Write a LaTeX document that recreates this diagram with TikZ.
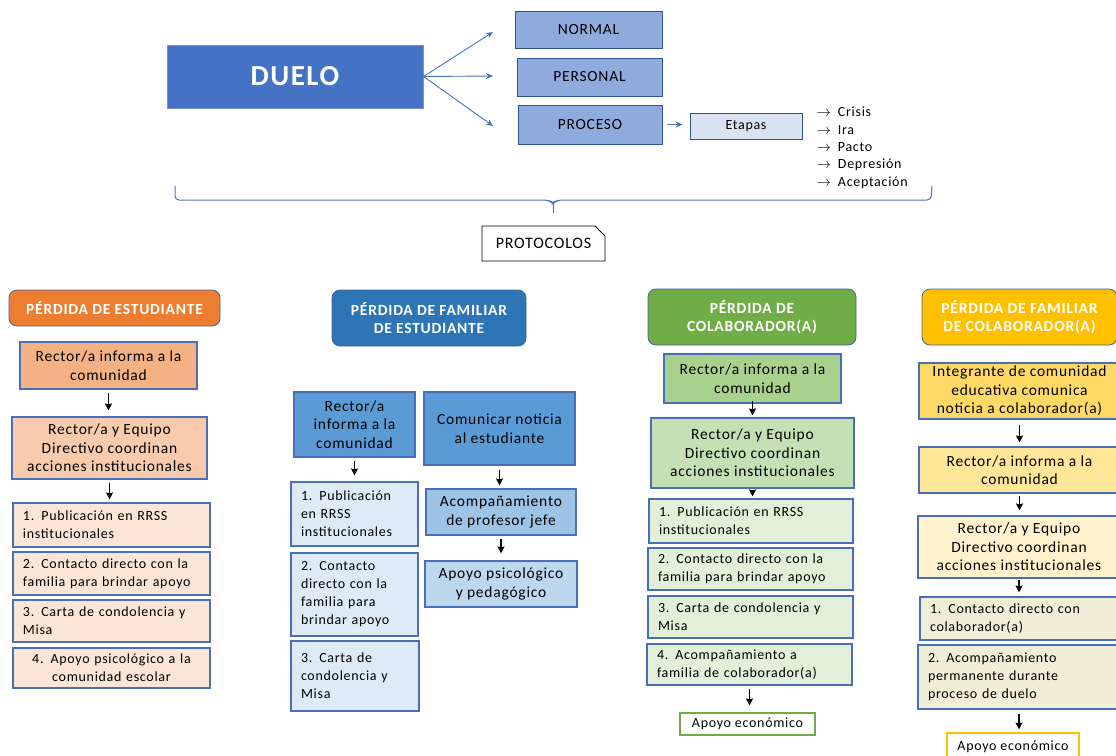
\documentclass[tikz,border=0pt]{standalone}
\usepackage{fontspec}
\setmainfont{Carlito}[LetterSpace=5]
\usetikzlibrary{arrows.meta, positioning, calc, shapes.misc}

\definecolor{duelfill}{HTML}{4472C4}
\definecolor{dueledge}{HTML}{7393D3}
\definecolor{topfill}{HTML}{8FAADC}
\definecolor{topedge}{HTML}{2F5597}
\definecolor{etafill}{HTML}{DAE3F3}
\definecolor{boxedge}{HTML}{4A6FBA}
\definecolor{headedge}{HTML}{41659A}
% columns
\definecolor{orhead}{HTML}{ED7D31}
\definecolor{orA}{HTML}{F4B183}
\definecolor{orB}{HTML}{F8CBAD}
\definecolor{orC}{HTML}{FBE5D6}
\definecolor{blhead}{HTML}{2E75B6}
\definecolor{blA}{HTML}{5B9BD5}
\definecolor{blB}{HTML}{9DC3E6}
\definecolor{blC}{HTML}{BDD7EE}
\definecolor{blD}{HTML}{DEEBF7}
\definecolor{grhead}{HTML}{70AD47}
\definecolor{grA}{HTML}{A9D18E}
\definecolor{grB}{HTML}{C5E0B4}
\definecolor{grC}{HTML}{E2F0D9}
\definecolor{yehead}{HTML}{FFC000}
\definecolor{yeA}{HTML}{FFD966}
\definecolor{yeB}{HTML}{FFE699}
\definecolor{yeC}{HTML}{FFF2CC}
\definecolor{yeD}{HTML}{F0EED6}

\newcommand{\fduel}{\fontsize{29}{32}\selectfont\bfseries}
\newcommand{\ftop}{\fontsize{15.5}{18}\selectfont}
\newcommand{\fhead}{\fontsize{15.5}{18.5}\selectfont\bfseries}
\newcommand{\fbody}{\fontsize{15.5}{18.5}\selectfont}
\newcommand{\fitem}{\fontsize{14}{18}\selectfont}
\newcommand{\fsmall}{\fontsize{14}{16}\selectfont}

\tikzset{
  topbox/.style={draw=topedge, line width=1pt, fill=topfill, font=\ftop},
  head/.style={draw=headedge, line width=0.8pt, rounded corners=8pt, text=white, align=center, font=\fhead},
  box/.style={draw=boxedge, line width=1.1pt, align=center, font=\fbody, inner sep=2pt},
  lbox/.style={draw=boxedge, line width=1.1pt, align=left, font=\fitem, inner xsep=10pt, inner ysep=2pt},
  arr/.style={-{Stealth[length=7pt,width=7pt,inset=1pt]}, line width=1.1pt, black},
  barr/.style={-{Stealth[length=7pt,width=6pt]}, line width=0.9pt, duelfill}
}

\begin{document}
\begin{tikzpicture}[x=1pt, y=-1pt]
\useasboundingbox (0,0) rectangle (1116,755);

% Duelo
\node[draw=dueledge, line width=1pt, fill=duelfill, text=white, font=\fduel,
      minimum width=256pt, minimum height=63pt] (duelo) at (295,76.5) {DUELO};

\node[topbox, minimum width=147pt, minimum height=37pt] (normal) at (588.5,29.5) {NORMAL};
\node[topbox, minimum width=145pt, minimum height=38pt] (personal) at (589.5,77) {PERSONAL};
\node[topbox, minimum width=144pt, minimum height=39pt] (proceso) at (590,124.5) {PROCESO};

\coordinate (tnormal) at (493,32);
\coordinate (tpersonal) at (493,76);
\coordinate (tproceso) at (493,126);
\draw[barr] (duelo.east) -- (tnormal);
\draw[barr] (duelo.east) -- (tpersonal);
\draw[barr] (duelo.east) -- (tproceso);

% Etapas
\node[draw=topedge, line width=1pt, fill=etafill, font=\fsmall,
      minimum width=112pt, minimum height=26pt] (etapas) at (746,126) {Etapas};
\draw[barr, shorten <=4pt, shorten >=7pt] (proceso.east) -- (proceso.east -| etapas.west);

\node[anchor=west, font=\fsmall] (crisis) at (813,112) {$\rightarrow$\hspace{7pt}Crisis};
\node[anchor=west, font=\fsmall] (ira) at (813,129.75) {$\rightarrow$\hspace{7pt}Ira};
\node[anchor=west, font=\fsmall] (pacto) at (813,147.5) {$\rightarrow$\hspace{7pt}Pacto};
\node[anchor=west, font=\fsmall] (depresion) at (813,165.25) {$\rightarrow$\hspace{7pt}Depresión};
\node[anchor=west, font=\fsmall] (aceptacion) at (813,183) {$\rightarrow$\hspace{7pt}Aceptación};

% llave
\draw[duelfill, line width=1pt, rounded corners=4pt]
  (175,186) -- (175,200) -- (549,200) -- (553,204) -- (557,200) -- (931,200) -- (932,186);
\draw[duelfill, line width=1pt] (553,203) -- (553,213);

% Protocolos
\node[chamfered rectangle, chamfered rectangle corners=north east,
      chamfered rectangle xsep=5pt, chamfered rectangle ysep=5pt,
      draw=black, line width=0.9pt, fill=white, font=\fontsize{16}{18}\selectfont,
      minimum width=123pt, minimum height=35pt] (protocolos) at (543.5,243.5) {PROTOCOLOS};

% Perdida de estudiante
\node[head, fill=orhead, minimum width=211pt, minimum height=36pt] (h1) at (114.5,308) {PÉRDIDA DE ESTUDIANTE};
\node[box, fill=orA, minimum width=177pt, minimum height=47pt] (e1) at (108.5,365.5) {Rector/a informa a la\\comunidad};
\node[box, fill=orB, minimum width=195pt, minimum height=62pt] (e2) at (109.5,448) {Rector/a y Equipo\\Directivo coordinan\\acciones institucionales};
\node[lbox, fill=orC, text width=177pt, minimum height=44pt] (e3) at (111.5,525) {1. Publicación en RRSS\\institucionales};
\node[lbox, fill=orC, text width=177pt, minimum height=43pt] (e4) at (111.5,573.5) {2. Contacto directo con la\\familia para brindar apoyo};
\node[lbox, fill=orC, text width=177pt, minimum height=42pt] (e5) at (111.5,621) {3. Carta de condolencia y\\Misa};
\node[lbox, fill=orC, align=center, text width=177pt, minimum height=40pt] (e6) at (111.5,668) {4. Apoyo psicológico a la\\comunidad escolar};
\draw[arr, shorten <=3pt, shorten >=6pt] (e1.south) -- (e1.south |- e2.north);
\draw[arr, shorten <=3pt, shorten >=3pt] (e2.south) -- (e2.south |- e3.north);

% Perdida de familiar de estudiante
\node[head, fill=blhead, minimum width=194pt, minimum height=56pt] (h2) at (429,318) {PÉRDIDA DE FAMILIAR\\DE ESTUDIANTE};
\node[box, fill=blA, minimum width=121pt, minimum height=65pt] (f1) at (354.5,424.5) {Rector/a\\informa a la\\comunidad};
\node[lbox, fill=blD, text width=107pt, minimum height=64pt] (f2) at (354.5,514) {1. Publicación\\en RRSS\\institucionales};
\node[lbox, fill=blD, text width=107pt, minimum height=83pt] (f3) at (354.5,594.5) {2. Contacto\\directo con la\\familia para\\brindar apoyo};
\node[lbox, fill=blD, text width=108pt, minimum height=70pt] (f4) at (355,676) {3. Carta de\\condolencia y\\Misa};
\node[box, fill=blA, minimum width=151pt, minimum height=73pt] (f5) at (499.5,428.5) {Comunicar noticia\\al estudiante};
\node[box, fill=blB, minimum width=150pt, minimum height=46pt] (f6) at (501,512) {Acompañamiento\\de profesor jefe};
\node[box, fill=blC, minimum width=152pt, minimum height=46pt] (f7) at (501,584) {Apoyo psicológico\\y pedagógico};
\draw[arr, shorten <=3pt, shorten >=6pt] (f1.south) -- (f1.south |- f2.north);
\draw[arr, shorten <=4pt, shorten >=3pt] (f5.south) -- (f5.south |- f6.north);
\draw[arr, shorten <=3pt, shorten >=7pt] (f6.south) -- (f6.south |- f7.north);

% Perdida de colaborador(a)
\node[head, fill=grhead, minimum width=208pt, minimum height=56pt] (h3) at (752,317) {PÉRDIDA DE\\COLABORADOR(A)};
\node[box, fill=grA, minimum width=177pt, minimum height=49pt] (g1) at (752.5,378.5) {Rector/a informa a la\\comunidad};
\node[box, fill=grB, minimum width=203pt, minimum height=70pt] (g2) at (752.5,453) {Rector/a y Equipo\\Directivo coordinan\\acciones institucionales};
\node[lbox, fill=grC, text width=184pt, minimum height=44pt] (g3) at (751,521) {1. Publicación en RRSS\\institucionales};
\node[lbox, fill=grC, text width=185pt, minimum height=42pt] (g4) at (750.5,569) {2. Contacto directo con la\\familia para brindar apoyo};
\node[lbox, fill=grC, text width=185pt, minimum height=42pt] (g5) at (750.5,617) {3. Carta de condolencia y\\Misa};
\node[lbox, fill=grC, text width=185pt, minimum height=41pt] (g6) at (749.5,664.5) {4. Acompañamiento a\\familia de colaborador(a)};
\node[draw=grhead, line width=1.1pt, fill=white, font=\fsmall, minimum width=135pt, minimum height=22pt] (g7) at (747.5,724) {Apoyo económico};
\draw[arr, shorten <=-3pt, shorten >=2pt] (g1.south) -- (g1.south |- g2.north);
\draw[arr, shorten <=1pt, shorten >=2pt] (g2.south) -- (g2.south |- g3.north);
\draw[arr, shorten <=3pt, shorten >=7pt] (g6.south) -- (g6.south |- g7.north);

% Perdida de familiar de colaborador(a)
\node[head, fill=yehead, minimum width=195pt, minimum height=56pt] (h4) at (1019.5,317) {PÉRDIDA DE FAMILIAR\\DE COLABORADOR(A)};
\node[box, fill=yeA, minimum width=201pt, minimum height=56pt] (k1) at (1019.5,391) {Integrante de comunidad\\educativa comunica\\noticia a colaborador(a)};
\node[box, fill=yeB, minimum width=201pt, minimum height=46pt] (k2) at (1019.5,470) {Rector/a informa a la\\comunidad};
\node[box, fill=yeC, minimum width=202pt, minimum height=62pt] (k3) at (1019,547) {Rector/a y Equipo\\Directivo coordinan\\acciones institucionales};
\node[lbox, fill=yeD, text width=180pt, minimum height=43pt] (k4) at (1020,618.5) {1. Contacto directo con\\colaborador(a)};
\node[lbox, fill=yeD, text width=182pt, minimum height=64pt] (k5) at (1019,677) {2. Acompañamiento\\permanente durante\\proceso de duelo};
\node[draw=yehead, line width=1.1pt, fill=white, font=\fsmall, minimum width=132pt, minimum height=27pt] (k6) at (1013,746.5) {Apoyo económico};
\draw[arr, shorten <=5pt, shorten >=4pt] (k1.south) -- (k1.south |- k2.north);
\draw[arr, shorten <=2pt, shorten >=5pt] (k2.south) -- (k2.south |- k3.north);
\draw[arr, shorten <=1pt, shorten >=4pt] (k3.south) -- (k3.south |- k4.north);
\draw[arr, shorten <=4pt, shorten >=3pt] (k5.south) -- (k5.south |- k6.north);
\end{tikzpicture}
\end{document}
